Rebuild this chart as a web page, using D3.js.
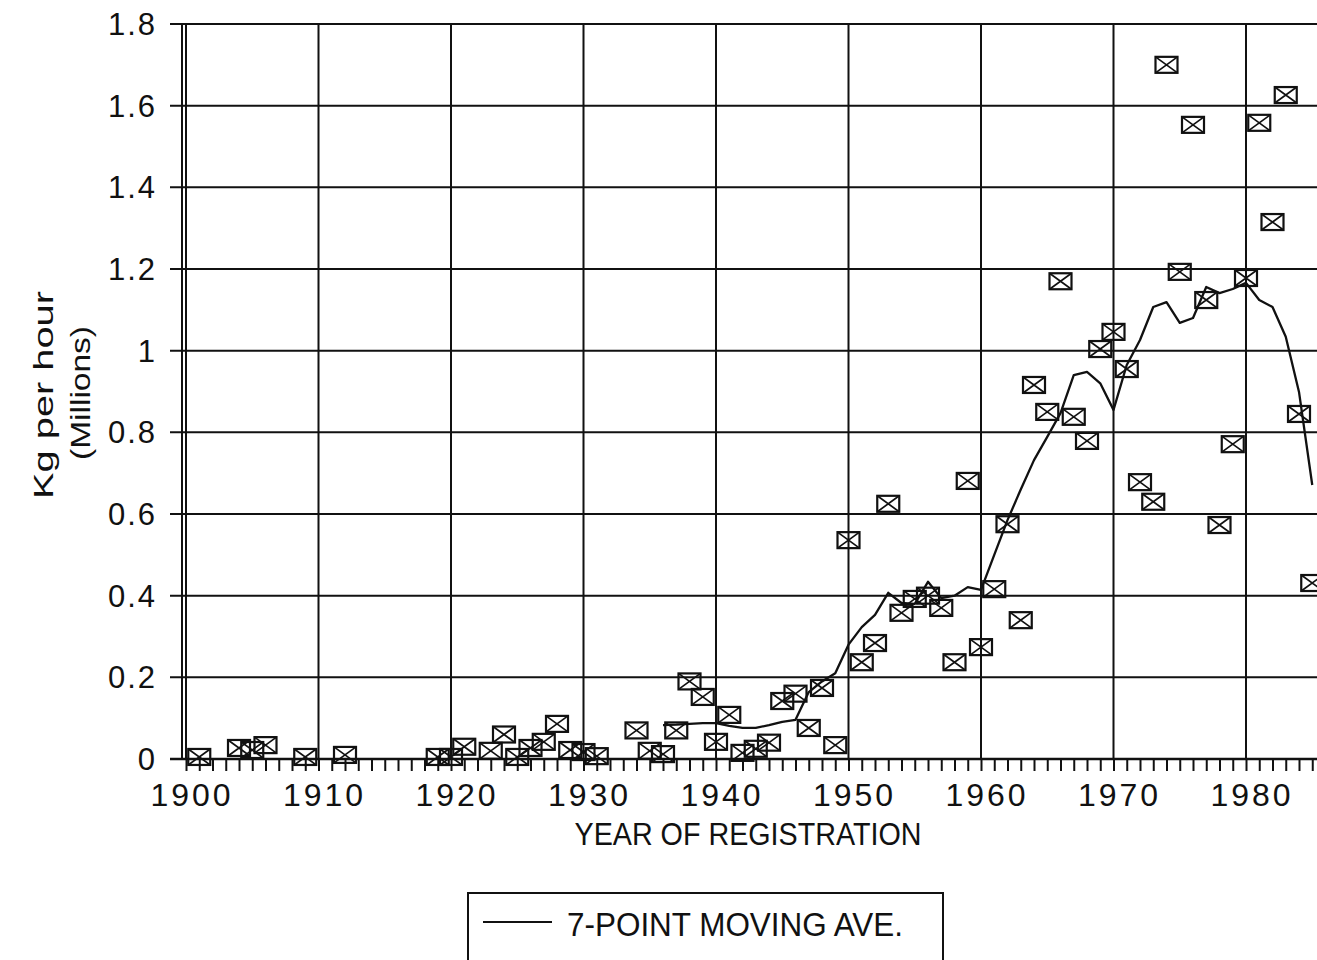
<!DOCTYPE html>
<html>
<head>
<meta charset="utf-8">
<script src="https://cdn.jsdelivr.net/npm/d3@7"></script>
<style>
  html, body { margin: 0; padding: 0; background: #fff; }
  svg { display: block; }
  text { font-family: "Liberation Sans", Arial, sans-serif; fill: #111; }
</style>
</head>
<body>
<svg id="chart" width="1317" height="960"></svg>
<script>
// Annual observations (year of registration, Kg per hour in millions)
const obsYears = [1901,1904,1905,1906,1909,1912,1919,1920,1921,1923,1924,1925,1926,1927,1928,1929,1930,1931,
  1934,1935,1936,1937,1938,1939,1940,1941,1942,1943,1944,1945,1946,1947,1948,1949,
  1950,1951,1952,1953,1954,1955,1956,1957,1958,1959,
  1960,1961,1962,1963,1964,1965,1966,1967,1968,1969,
  1970,1971,1972,1973,1974,1975,1976,1977,1978,1979,
  1980,1981,1982,1983,1984,1985];
const obsValues = [0.005,0.027,0.022,0.034,0.005,0.010,0.005,0.005,0.030,0.020,0.060,0.005,0.027,0.042,0.086,0.022,0.017,0.007,
  0.070,0.020,0.012,0.070,0.190,0.152,0.042,0.108,0.015,0.025,0.040,0.142,0.160,0.076,0.174,0.034,
  0.536,0.237,0.284,0.625,0.358,0.392,0.400,0.370,0.237,0.681,
  0.274,0.416,0.575,0.340,0.916,0.850,1.170,0.838,0.779,1.004,
  1.046,0.955,0.678,0.630,1.700,1.193,1.553,1.124,0.573,0.771,
  1.178,1.558,1.315,1.626,0.845,0.431];

// 7-point moving average
const maYears = [1936,1937,1938,1939,1940,1941,1942,1943,1944,1945,1946,1947,1948,1949,
  1950,1951,1952,1953,1954,1955,1956,1957,1958,1959,
  1960,1961,1962,1963,1964,1965,1966,1967,1968,1969,
  1970,1971,1972,1973,1974,1975,1976,1977,1978,1979,
  1980,1981,1982,1983,1984,1985];
const maValues = [0.083,0.084,0.086,0.088,0.088,0.081,0.076,0.076,0.083,0.091,0.096,0.164,0.190,0.210,
  0.280,0.323,0.353,0.407,0.382,0.380,0.434,0.394,0.400,0.421,
  0.414,0.500,0.585,0.660,0.732,0.789,0.847,0.940,0.948,0.920,
  0.855,0.965,1.026,1.107,1.119,1.068,1.080,1.156,1.141,1.151,
  1.166,1.124,1.107,1.034,0.899,0.671];

const yTicks = [0, 0.2, 0.4, 0.6, 0.8, 1, 1.2, 1.4, 1.6, 1.8];
const yTickLabels = ["0", "0.2", "0.4", "0.6", "0.8", "1", "1.2", "1.4", "1.6", "1.8"];
const xDecades = [1900, 1910, 1920, 1930, 1940, 1950, 1960, 1970, 1980, 1990];
const xTickLabels = ["1900", "1910", "1920", "1930", "1940", "1950", "1960", "1970", "1980"];

const svg = d3.select("#chart");
const ink = "#111";

const x = d3.scaleLinear().domain([1900, 1990]).range([186, 1378.5]);
const y = d3.scaleLinear().domain([0, 1.8]).range([759, 24]);

// horizontal grid lines
svg.append("g").selectAll("line").data(yTicks).join("line")
  .attr("x1", 170).attr("x2", x(1990))
  .attr("y1", d => y(d)).attr("y2", d => y(d))
  .attr("stroke", ink).attr("stroke-width", 2);

// vertical grid lines at each decade
svg.append("g").selectAll("line").data(xDecades).join("line")
  .attr("x1", d => x(d)).attr("x2", d => x(d))
  .attr("y1", y(1.8)).attr("y2", y(0))
  .attr("stroke", ink).attr("stroke-width", 2);

// left frame line
svg.append("line")
  .attr("x1", 182).attr("x2", 182).attr("y1", y(1.8)).attr("y2", y(0))
  .attr("stroke", ink).attr("stroke-width", 2);

// x axis: one tick per year, hanging below the baseline
const xAxis = d3.axisBottom(x)
  .tickValues(d3.range(1900, 1991, 1))
  .tickSize(12)
  .tickSizeOuter(0)
  .tickFormat("");
const gx = svg.append("g").attr("transform", `translate(0,${y(0)})`).call(xAxis);
gx.select(".domain").attr("stroke", ink).attr("stroke-width", 2.5).attr("d", `M170,0H${x(1990)}`);
gx.selectAll(".tick line").attr("stroke", ink).attr("stroke-width", 2);

// decade labels
svg.append("g").selectAll("text").data(xTickLabels).join("text")
  .attr("x", d => x(+d) + 6)
  .attr("y", 806)
  .attr("text-anchor", "middle")
  .attr("font-size", 32)
  .attr("letter-spacing", 3)
  .text(d => d);

// y tick labels
svg.append("g").selectAll("text").data(yTicks).join("text")
  .attr("x", 157)
  .attr("y", d => y(d) + 11)
  .attr("text-anchor", "end")
  .attr("font-size", 31)
  .attr("letter-spacing", 2)
  .text((d, i) => yTickLabels[i]);

// axis titles
svg.append("text")
  .attr("x", 748).attr("y", 845)
  .attr("text-anchor", "middle")
  .attr("font-size", 31)
  .attr("textLength", 347).attr("lengthAdjust", "spacingAndGlyphs")
  .text("YEAR OF REGISTRATION");

svg.append("text")
  .attr("transform", "translate(53,395) rotate(-90)")
  .attr("text-anchor", "middle")
  .attr("font-size", 27)
  .attr("textLength", 208).attr("lengthAdjust", "spacingAndGlyphs")
  .text("Kg per hour");

svg.append("text")
  .attr("transform", "translate(90,393) rotate(-90)")
  .attr("text-anchor", "middle")
  .attr("font-size", 27)
  .attr("textLength", 134).attr("lengthAdjust", "spacingAndGlyphs")
  .text("(Millions)");

// moving-average line
const line = d3.line().x(d => x(d[0])).y(d => y(d[1]));
svg.append("path")
  .datum(maYears.map((yr, i) => [yr, maValues[i]]))
  .attr("d", line)
  .attr("fill", "none")
  .attr("stroke", ink)
  .attr("stroke-width", 2.3)
  .attr("stroke-linejoin", "round");

// boxed-cross markers for each observation
const mw = 22, mh = 16;
const marks = svg.append("g").selectAll("g")
  .data(obsYears.map((yr, i) => [yr, obsValues[i]]))
  .join("g")
  .attr("transform", d => `translate(${x(d[0])},${y(d[1])})`);
marks.append("rect")
  .attr("x", -mw / 2).attr("y", -mh / 2).attr("width", mw).attr("height", mh)
  .attr("fill", "none").attr("stroke", ink).attr("stroke-width", 2.2);
marks.append("path")
  .attr("d", `M${-mw/2},${-mh/2}L${mw/2},${mh/2}M${mw/2},${-mh/2}L${-mw/2},${mh/2}`)
  .attr("fill", "none").attr("stroke", ink).attr("stroke-width", 1.7);

// legend
const lg = svg.append("g");
lg.append("rect")
  .attr("x", 468).attr("y", 893).attr("width", 475).attr("height", 120)
  .attr("fill", "none").attr("stroke", ink).attr("stroke-width", 2);
lg.append("line")
  .attr("x1", 483).attr("x2", 552).attr("y1", 922).attr("y2", 922)
  .attr("stroke", ink).attr("stroke-width", 2);
lg.append("text")
  .attr("x", 567).attr("y", 936)
  .attr("font-size", 33)
  .attr("textLength", 336).attr("lengthAdjust", "spacingAndGlyphs")
  .text("7-POINT MOVING AVE.");
</script>
</body>
</html>
